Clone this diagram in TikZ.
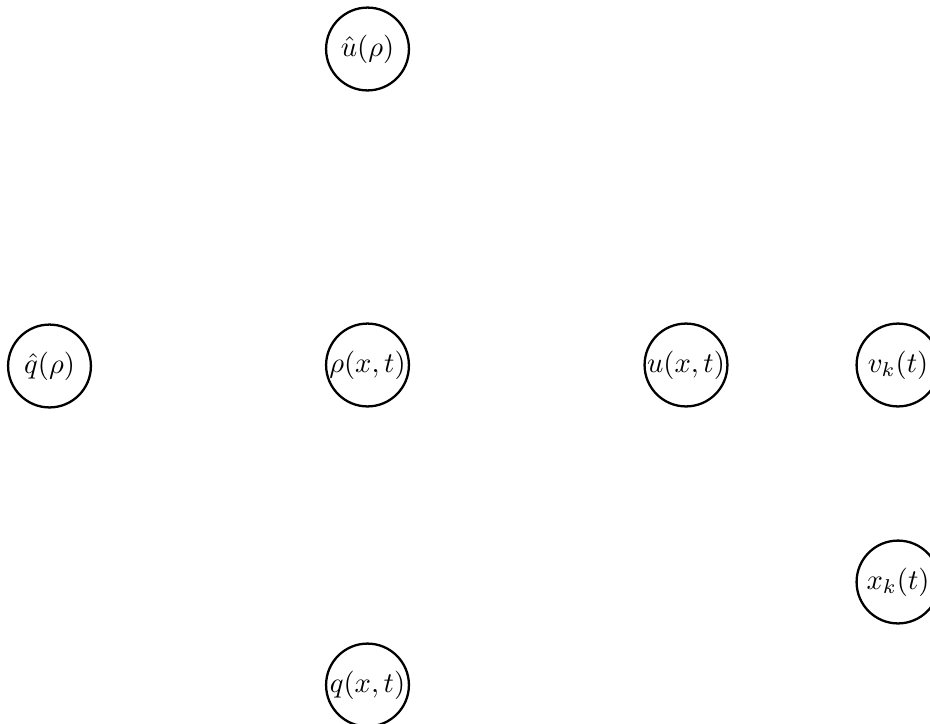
\documentclass[tikz,border=0pt]{standalone}
\begin{document}
\begin{tikzpicture}[x=0.35pt, y=-0.35pt]
\tikzset{var/.style={circle, draw, thick, minimum size=29pt, inner sep=0pt}}
\useasboundingbox (0,0) rectangle (930,723);
\node[var] (uhat) at (367.5,49) {$\hat{u}(\rho)$};
\node[var] (qhat) at (49.5,366) {$\hat{q}(\rho)$};
\node[var] (rho) at (367.5,365) {$\rho(x,t)$};
\node[var] (u) at (686,365) {$u(x,t)$};
\node[var] (vk) at (898,365) {$v_k(t)$};
\node[var] (xk) at (898,582) {$x_k(t)$};
\node[var] (q) at (367.5,685) {$q(x,t)$};
\end{tikzpicture}
\end{document}
